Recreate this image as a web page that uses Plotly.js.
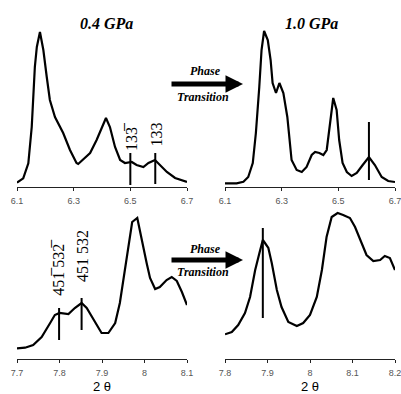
<!DOCTYPE html>
<html>
<head>
<meta charset="utf-8">
<script src="https://cdn.plot.ly/plotly-3.0.1.min.js"></script>
<style>html,body{margin:0;padding:0;background:#fff}#c{width:401px;height:394px}</style>
</head>
<body>
<div id="c"></div>
<script>
// Panel A: 0.4 GPa, low-angle region
var thetaA = [6.1,6.122,6.14,6.152,6.163,6.17,6.181,6.193,6.205,6.216,6.234,6.263,6.287,6.31,6.316,6.358,6.381,6.399,6.414,6.428,6.446,6.464,6.481,6.505,6.522,6.546,6.564,6.587,6.605,6.629,6.658,6.7];
var intA   = [4.3,8.7,23.7,60,120,140,155,137,110,87,70,54,37,24,23,34,47,59,69,60,40,27,24,25,22,20,24,27,22,15,9,5];
// Panel B: 1.0 GPa, low-angle region
var thetaB = [6.1,6.141,6.165,6.182,6.198,6.209,6.221,6.229,6.238,6.251,6.261,6.268,6.28,6.292,6.306,6.32,6.335,6.353,6.371,6.388,6.406,6.418,6.433,6.447,6.459,6.471,6.482,6.494,6.503,6.515,6.53,6.547,6.565,6.586,6.608,6.629,6.653,6.676,6.7];
var intB   = [3.7,3.7,5.3,10,24,54,100,137,156,147,127,104,94,104,94,70,27,17,15,20,32,35,34,32,37,64,89,77,47,24,15,11,14,22,30,22,10,6,5];
// Panel C: 0.4 GPa, high-angle region
var thetaC = [7.7,7.719,7.738,7.758,7.778,7.789,7.8,7.821,7.836,7.852,7.864,7.884,7.899,7.915,7.931,7.942,7.954,7.966,7.971,7.983,7.993,8.005,8.013,8.025,8.036,8.052,8.064,8.076,8.088,8.1];
var intC   = [10.7,11.3,14,22,36,44,46,45,51,56,51,36,26,26,36,56,89,122,137,141,119,96,81,70,72,79,82,78,67,54];
// Panel D: 1.0 GPa, high-angle region
var thetaD = [7.8,7.816,7.831,7.847,7.859,7.871,7.881,7.889,7.894,7.902,7.91,7.922,7.933,7.949,7.969,7.984,8.0,8.016,8.028,8.039,8.051,8.065,8.078,8.094,8.106,8.118,8.133,8.149,8.165,8.176,8.188,8.2];
var intD   = [24.7,27,34,46,62,89,106,119,116,111,96,69,52,37,33,36,44,62,89,122,142,146,144,141,132,119,104,98,99,103,101,89];

// Reflection markers [position, low, high]
var markA = [[6.5,2,34],[6.588,3,34]];
var markB = [[6.608,7,65]];
var markC = [[7.799,19,51],[7.852,29,61]];
var markD = [[7.889,41,131]];

// Labels
var labelsA = ["133\u0305","133"];
var labelsC = ["451\u0305 532\u0305","451 532"];
var titlesTop = ["0.4 GPa","1.0 GPa"];
var arrowText = ["Phase","Transition"];
var xTitle = "2 \u03b8";

// Tick labels
var ticksTopVals = [6.1,6.3,6.5,6.7];
var ticksTopText = ["6.1","6.3","6.5","6.7"];
var ticksBLVals = [7.7,7.8,7.9,8.0,8.1];
var ticksBLText = ["7.7","7.8","7.9","8","8.1"];
var ticksBRVals = [7.8,7.9,8.0,8.1,8.2];
var ticksBRText = ["7.8","7.9","8","8.1","8.2"];

var lineStyle = {color:'#000', width:2.2};
var traces = [];
function curve(x,y,xa,ya){traces.push({x:x,y:y,xaxis:xa,yaxis:ya,type:'scatter',mode:'lines',line:lineStyle,hoverinfo:'none'});}
function marks(m,xa,ya){m.forEach(function(v){traces.push({x:[v[0],v[0]],y:[v[1],v[2]],xaxis:xa,yaxis:ya,type:'scatter',mode:'lines',line:{color:'#000',width:2},hoverinfo:'none'});});}
curve(thetaA,intA,'x','y'); marks(markA,'x','y');
curve(thetaB,intB,'x2','y2'); marks(markB,'x2','y2');
curve(thetaC,intC,'x3','y3'); marks(markC,'x3','y3');
curve(thetaD,intD,'x4','y4'); marks(markD,'x4','y4');

var W=401,H=394;
function px(x){return x/W;}
function py(y){return 1-y/H;}

function xax(vals,txt,range,d0,d1,anchor){
  return {domain:[px(d0),px(d1)], range:range, tickmode:'array', tickvals:vals, ticktext:txt,
    showgrid:false, zeroline:false, showline:true, linecolor:'#222', linewidth:1.3,
    ticks:'outside', ticklen:3, tickwidth:1, tickcolor:'#222', anchor:anchor, ticklabeloverflow:'allow',
    tickfont:{family:'Liberation Sans, Arial', size:9, color:'#555'}, ticklabelstandoff:2, fixedrange:true};
}
function yax(d0,d1,r,anchor){
  return {domain:[py(d1),py(d0)], range:r, visible:false, anchor:anchor, fixedrange:true};
}

var serifBI = {family:'Liberation Serif, Times New Roman, serif', color:'#000'};
var ann = [];
function A(o){o.xanchor='center'; o.yanchor='middle'; ann.push(o);}
// titles
A({text:'<b><i>'+titlesTop[0]+'</i></b>', xref:'paper', yref:'paper', x:px(107), y:py(23), showarrow:false, font:Object.assign({size:16},serifBI)});
A({text:'<b><i>'+titlesTop[1]+'</i></b>', xref:'paper', yref:'paper', x:px(311), y:py(23), showarrow:false, font:Object.assign({size:16},serifBI)});
// phase transition texts
[[71,84,97],[249,260,272]].forEach(function(r){
  A({text:'<b><i>'+arrowText[0]+'</i></b>', xref:'paper', yref:'paper', x:px(205), y:py(r[0]), showarrow:false, font:Object.assign({size:12},serifBI)});
  A({text:'<b><i>'+arrowText[1]+'</i></b>', xref:'paper', yref:'paper', x:px(203), y:py(r[2]), showarrow:false, font:Object.assign({size:12},serifBI)});
  A({text:'', xref:'paper', yref:'paper', x:px(243), y:py(r[1]), ax:-73, ay:0, showarrow:true, arrowhead:2, arrowsize:0.7, arrowwidth:5, arrowcolor:'#000', standoff:0});
});
// Miller labels
var lf = {family:'Liberation Serif, Times New Roman, serif', size:16, color:'#000'};
A({text:labelsA[0], xref:'x', yref:'y', x:6.502, y:51, textangle:-90, showarrow:false, font:lf});
A({text:labelsA[1], xref:'x', yref:'y', x:6.589, y:52, textangle:-90, showarrow:false, font:lf});
A({text:labelsC[0], xref:'x3', yref:'y3', x:7.796, y:92, textangle:-90, showarrow:false, font:lf});
A({text:labelsC[1], xref:'x3', yref:'y3', x:7.853, y:103, textangle:-90, showarrow:false, font:lf});
// x titles
A({text:xTitle, xref:'paper', yref:'paper', x:px(102), y:py(386), showarrow:false, font:{family:'Liberation Sans, Arial', size:13, color:'#000'}});
A({text:xTitle, xref:'paper', yref:'paper', x:px(310), y:py(386), showarrow:false, font:{family:'Liberation Sans, Arial', size:13, color:'#000'}});

var layout = {
  width:W, height:H, margin:{l:0,r:0,t:0,b:0}, paper_bgcolor:'#fff', plot_bgcolor:'#fff', showlegend:false,
  xaxis: xax(ticksTopVals,ticksTopText,[6.1,6.7],17,187,'y'),
  xaxis2: xax(ticksTopVals,ticksTopText,[6.1,6.7],225,395,'y2'),
  xaxis3: xax(ticksBLVals,ticksBLText,[7.7,8.1],17,187,'y3'),
  xaxis4: xax(ticksBRVals,ticksBRText,[7.8,8.2],225,395,'y4'),
  yaxis: yax(25,187,[0,162],'x'),
  yaxis2: yax(25,187,[0,162],'x2'),
  yaxis3: yax(210,359,[0,149],'x3'),
  yaxis4: yax(210,359,[0,149],'x4'),
  annotations: ann
};
Plotly.newPlot('c', traces, layout, {staticPlot:true, displayModeBar:false});
</script>
</body>
</html>
